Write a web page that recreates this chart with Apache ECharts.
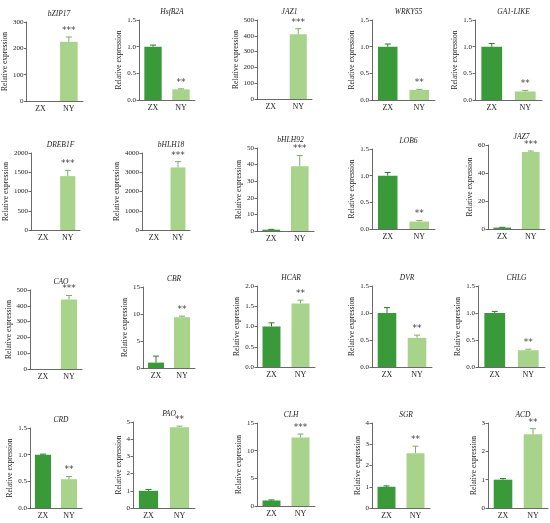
<!DOCTYPE html>
<html>
<head>
<meta charset="utf-8">
<script src="https://cdn.jsdelivr.net/npm/echarts@6/dist/echarts.min.js"></script>
<style>
  html, body { margin: 0; padding: 0; background: #fff; }
  #chart { width: 550px; height: 523px; }
</style>
</head>
<body>
<div id="chart"></div>
<script>
var genes = ['bZIP17', 'HsfB2A', 'JAZ1', 'WRKY55', 'GA1-LIKE',
             'DREB1F', 'bHLH18', 'bHLH92', 'LOB6', 'JAZ7',
             'CAO', 'CBR', 'HCAR', 'DVR', 'CHLG',
             'CRD', 'PAO', 'CLH', 'SGR', 'ACD'];
var groups = ['ZX', 'NY'];
var zxValues = [0, 1.0, 0, 1.0, 1.0, 0, 0, 0.8, 1.0, 1.0, 0, 1.0, 1.0, 1.0, 1.0, 1.0, 1.0, 1.0, 1.0, 1.0];
var zxErrors = [0, 0.03, 0, 0.05, 0.06, 0, 0, 0.2, 0.06, 0.2, 0, 1.2, 0.09, 0.1, 0.03, 0.01, 0.08, 0.1, 0.04, 0.04];
var nyValues = [225, 0.2, 410, 0.19, 0.16, 1400, 3250, 39, 0.14, 55, 440, 9.4, 1.57, 0.54, 0.31, 0.54, 4.7, 12.4, 2.58, 2.6];
var nyErrors = [18, 0.01, 35, 0.01, 0.02, 150, 300, 6.5, 0.02, 0.7, 25, 0.2, 0.08, 0.05, 0.02, 0.05, 0.06, 0.6, 0.33, 0.2];
var signif = ['***', '**', '***', '**', '**', '***', '***', '***', '**', '***',
              '***', '**', '**', '**', '**', '**', '**', '***', '**', '**'];
var yMax = [300, 1.5, 500, 1.5, 1.5, 2000, 4000, 50, 1.5, 60, 500, 15, 2.0, 1.5, 1.5, 1.5, 5, 15, 4, 3];
var yStep = [100, 0.5, 100, 0.5, 0.5, 500, 1000, 10, 0.5, 20, 100, 5, 0.5, 0.5, 0.5, 0.5, 1, 5, 1, 1];

// plot boxes [left, top, right, bottom] in px
var boxes = [
  [25, 22, 83, 101], [139, 20, 195, 100], [257, 20, 312, 99], [372, 20, 435, 100], [475, 20, 542, 100],
  [31, 153, 80, 230], [142, 153, 190, 230], [257, 148, 314, 231], [372, 149, 435, 229], [488, 145, 545, 229],
  [30, 290, 82, 369], [143, 287, 195, 368], [257, 286, 315, 367], [372, 286, 432, 367], [478, 286, 545, 367],
  [30, 428, 82, 508], [133, 422, 195, 508], [257, 423, 315, 506], [372, 423, 430, 508], [488, 423, 548, 508]
];

var FONT = "'Liberation Serif', 'Times New Roman', serif";
var ZX_COLOR = '#3a9a3a';
var NY_COLOR = '#a7d38b';
var AXIS_COLOR = '#444';

var grids = [], xAxes = [], yAxes = [], titles = [], series = [];

genes.forEach(function (g, i) {
  var b = boxes[i];
  var step = yStep[i];
  var fmt = function (v) { return step < 1 ? v.toFixed(1) : String(v); };
  var longest = fmt(yMax[i]).length;

  grids.push({ left: b[0], top: b[1], width: b[2] - b[0], height: b[3] - b[1] });
  titles.push({
    text: g,
    left: (b[0] + b[2]) / 2,
    top: b[1] - 17,
    textAlign: 'center',
    textStyle: { fontFamily: FONT, fontStyle: 'italic', fontWeight: 'normal', fontSize: 7.5, color: '#222' }
  });
  xAxes.push({
    gridIndex: i,
    type: 'category',
    data: groups,
    axisLine: { lineStyle: { color: AXIS_COLOR, width: 0.8 } },
    axisTick: { alignWithLabel: true, length: 2.5, lineStyle: { color: AXIS_COLOR, width: 0.8 } },
    axisLabel: { fontFamily: FONT, fontSize: 8, color: '#222', margin: 4 }
  });
  yAxes.push({
    gridIndex: i,
    type: 'value',
    min: 0,
    max: yMax[i],
    interval: step,
    name: 'Relative expression',
    nameLocation: 'middle',
    nameRotate: 90,
    nameGap: 6 + longest * 3.3,
    nameTextStyle: { fontFamily: FONT, fontSize: 7.5, color: '#222' },
    splitLine: { show: false },
    axisLine: { show: true, lineStyle: { color: AXIS_COLOR, width: 0.8 } },
    axisTick: { show: true, length: 2.5, lineStyle: { color: AXIS_COLOR, width: 0.8 } },
    axisLabel: { fontFamily: FONT, fontSize: 7, color: '#222', margin: 3, formatter: fmt }
  });

  series.push({
    type: 'bar',
    xAxisIndex: i,
    yAxisIndex: i,
    barWidth: '62%',
    silent: true,
    data: [
      { value: zxValues[i], itemStyle: { color: ZX_COLOR } },
      { value: nyValues[i], itemStyle: { color: NY_COLOR } }
    ]
  });

  series.push({
    type: 'custom',
    xAxisIndex: i,
    yAxisIndex: i,
    silent: true,
    z: 5,
    encode: { x: 0, y: 1 },
    data: [
      [0, zxValues[i], zxErrors[i]],
      [1, nyValues[i], nyErrors[i]]
    ],
    renderItem: function (params, api) {
      var idx = api.value(0);
      var v = api.value(1);
      var e = api.value(2);
      var base = api.coord([idx, v]);
      var top = api.coord([idx, v + e]);
      var col = idx === 0 ? '#2d7a2d' : '#7fae67';
      var children = [];
      if (v > 0 && e > 0) {
        children.push({
          type: 'line',
          shape: { x1: base[0], y1: base[1], x2: top[0], y2: top[1] },
          style: { stroke: col, lineWidth: 1 }
        });
        children.push({
          type: 'line',
          shape: { x1: top[0] - 3, y1: top[1], x2: top[0] + 3, y2: top[1] },
          style: { stroke: col, lineWidth: 1 }
        });
      }
      var stars = params.dataIndex === 1 ? signif[params.seriesIndex >> 1] : '';
      if (stars) {
        children.push({
          type: 'text',
          style: {
            text: stars,
            x: top[0],
            y: top[1] - 2,
            align: 'center',
            verticalAlign: 'bottom',
            fontFamily: 'DejaVu Sans, sans-serif',
            fontSize: 9,
            fill: '#444'
          }
        });
      }
      return { type: 'group', children: children };
    }
  });
});

var chart = echarts.init(document.getElementById('chart'));
chart.setOption({
  animation: false,
  backgroundColor: '#fff',
  title: titles,
  grid: grids,
  xAxis: xAxes,
  yAxis: yAxes,
  series: series
});
</script>
</body>
</html>
